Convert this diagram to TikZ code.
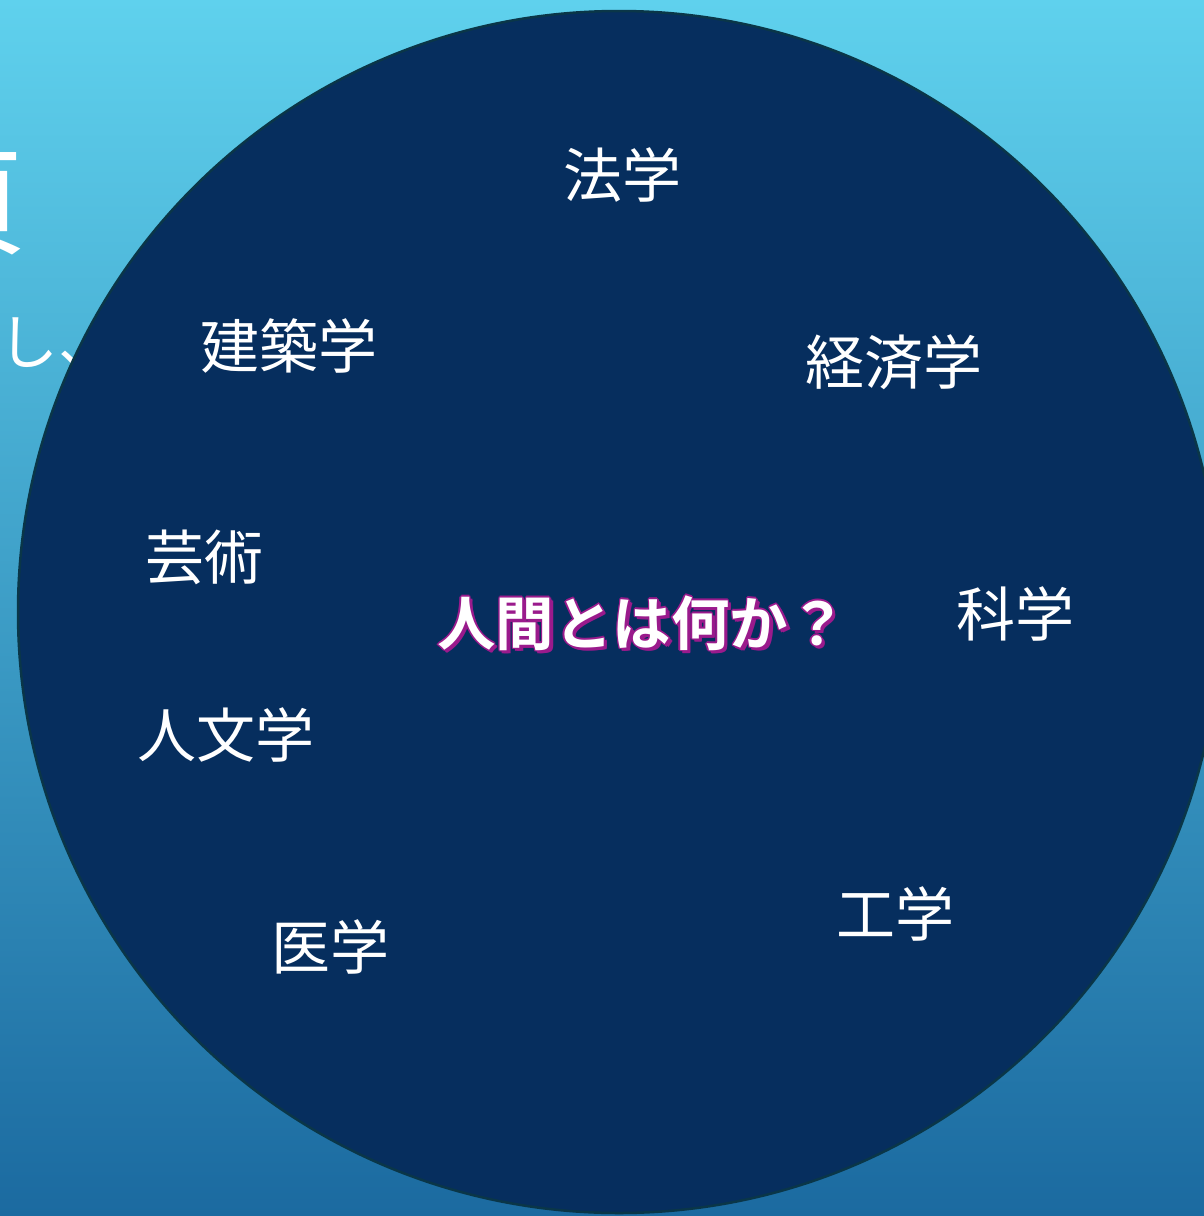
\documentclass[tikz,border=0pt]{standalone}
\usepackage{fontspec}
\newfontfamily\jp{Noto Sans CJK JP}
\newfontfamily\jpb{Noto Sans CJK JP Bold}
\definecolor{bgtop}{HTML}{5FD1ED}
\definecolor{bgbot}{HTML}{1B6AA0}
\definecolor{disc}{HTML}{062E5E}
\definecolor{discedge}{HTML}{0A3648}
\definecolor{shade}{HTML}{9A1A8C}
\tikzset{
  field/.style={text=white, font=\jp\fontsize{59}{62}\selectfont, inner sep=0pt, anchor=center},
  behind/.style={text=white, font=\jp\fontsize{60}{62}\selectfont, inner sep=0pt},
  qshadow/.style={text=shade, font=\jpb\fontsize{58.5}{62}\selectfont, inner sep=0pt},
  qtext/.style={text=white, font=\jpb\fontsize{58.5}{62}\selectfont, inner sep=0pt}
}
\begin{document}
\begin{tikzpicture}[x=1pt,y=-1pt]
\useasboundingbox (0,0) rectangle (1204,1216);
\clip (0,0) rectangle (1204,1216);
\shade[top color=bgtop, bottom color=bgbot] (0,0) rectangle (1204,1216);
% text partly hidden behind the disc
\node[behind, font=\jp\fontsize{118}{120}\selectfont, anchor=east] (big) at (27,204) {頁};
\node[behind, anchor=west] (shi) at (-2,343) {し、};
% disc
\node[circle, draw=discedge, line width=2.5pt, fill=disc, minimum size=1202pt, inner sep=0pt] (disc) at (619,612) {};
% fields
\node[field] (hou) at (622,175) {法学};
\node[field] (ken) at (289,346) {建築学};
\node[field] (kei) at (894,362) {経済学};
\node[field] (gei) at (204,557) {芸術};
\node[field] (kag) at (1015,614) {科学};
\node[field] (jin) at (226,735) {人文学};
\node[field] (iga) at (330,947) {医学};
\node[field] (kou) at (895,914) {工学};
% central question with magenta outline and shadow
\foreach \dx/\dy in {3.5/3.5, 2/3, 3/2, -1.5/0, 1.5/0, 0/-1.5, 0/1.5, -1/-1, 1/1, -1/1, 1/-1}{
  \node[qshadow] at (642+\dx,623+\dy) {人間とは何か？};
}
\node[qtext] (q) at (642,623) {人間とは何か？};
\end{tikzpicture}
\end{document}
